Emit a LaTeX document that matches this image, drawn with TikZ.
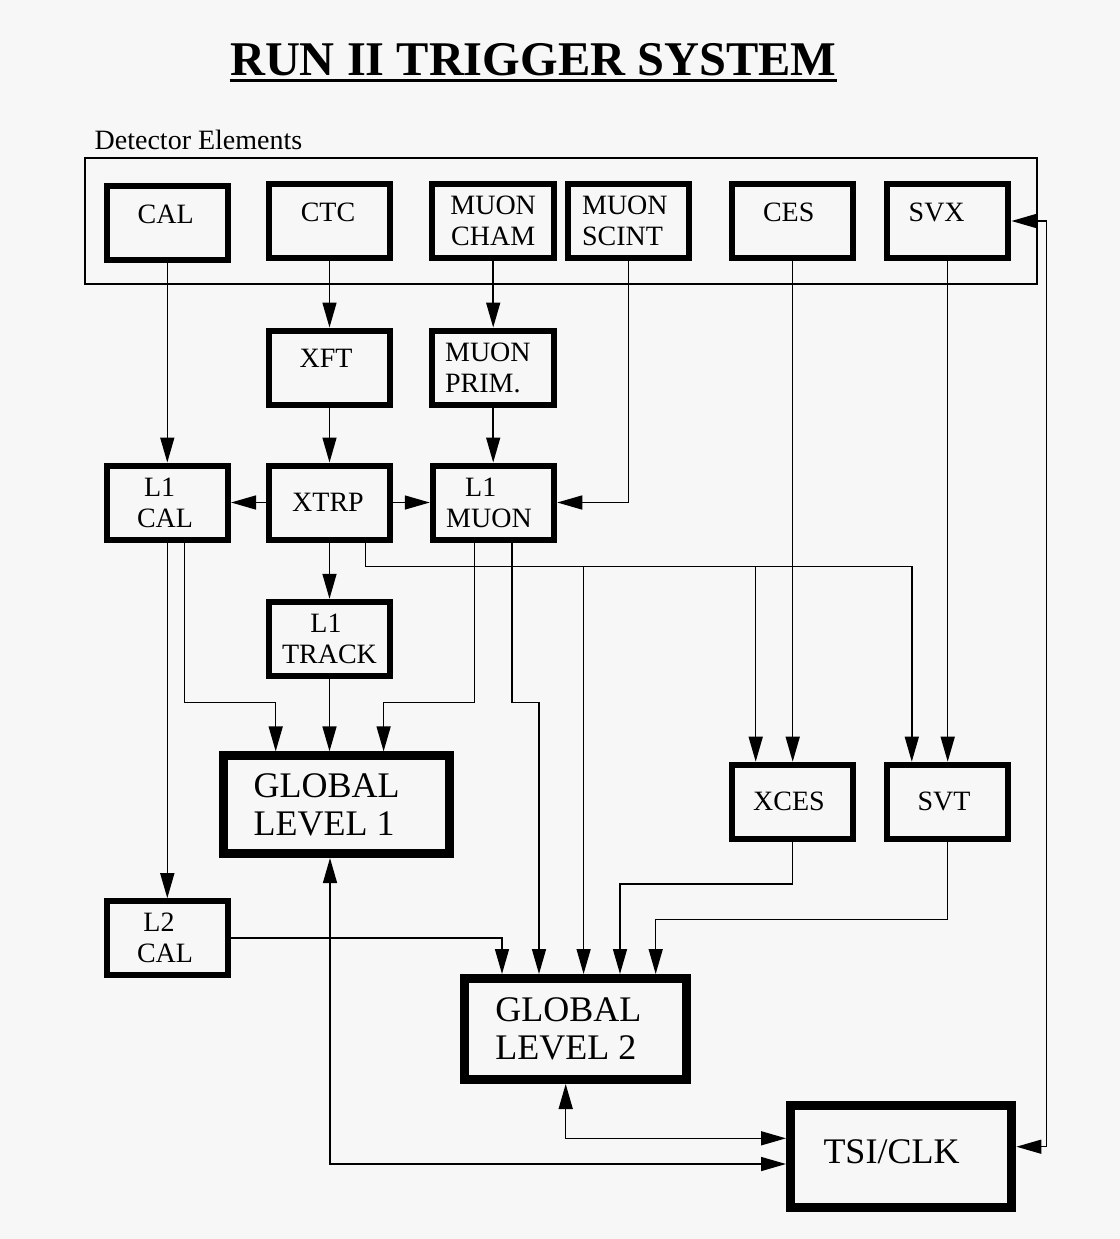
\documentclass[tikz,border=0pt]{standalone}
\usepackage{fontspec}
\setmainfont{Liberation Serif}
\usetikzlibrary{arrows.meta,calc}
\definecolor{bgc}{RGB}{247,247,247}
\newcommand\padR[1]{\hbox to #1{}}
\begin{document}
\begin{tikzpicture}[x=0.5pt,y=-0.5pt,
  box/.style={draw, line width=3pt, minimum width=60.75pt, minimum height=37pt, inner sep=0pt,
    font=\fontsize{14}{15.5}\selectfont, align=center},
  hi/.style={text height=4.6pt, text depth=4.6pt},
  big/.style={draw, line width=4.5pt, inner sep=0pt, font=\fontsize{18}{19.2}\selectfont, align=left},
  wire/.style={line width=0.75pt},
  arr/.style={wire, -{Triangle[length=12.5pt,width=7pt]}},
  darr/.style={wire, {Triangle[length=12.5pt,width=7pt]}-{Triangle[length=12.5pt,width=7pt]}}]
\useasboundingbox (0,0) rectangle (1120,1239);
\fill[bgc] (0,0) rectangle (1120,1239);

% title
\node[anchor=base, inner sep=0pt, font=\bfseries\fontsize{24.2}{28}\selectfont] (title) at (533.3,75) {RUN II TRIGGER SYSTEM};
\draw[line width=1.25pt] ($(title.base west)+(0,5.5)$) -- ($(title.base east)+(0,5.5)$);

% detector elements frame
\node[anchor=base west, inner sep=0pt, font=\fontsize{14}{16}\selectfont] (detlabel) at (94.3,149.3) {Detector Elements};
\node[draw, line width=0.8pt, minimum width=476pt, minimum height=63pt, inner sep=0pt] (det) at (561.1,221.15) {};

% boxes
\node[box,hi] (cal) at (167.3,223) {CAL\padR{1.6pt}};
\node[box,hi] (ctc) at (329.5,221) {CTC\padR{1.5pt}};
\node[box] (mcham) at (493.2,221) {MUON\\CHAM};
\node[box,align=left] (mscint) at (628.4,221) {MUON\padR{3.5pt}\\SCINT};
\node[box,hi] (ces) at (792.7,221) {CES\padR{4pt}};
\node[box,hi] (svx) at (947.7,221) {SVX\padR{11pt}};
\node[box,hi] (xft) at (329.5,367.5) {XFT\padR{3.5pt}};
\node[box,align=left] (mprim) at (493.2,367.5) {MUON\padR{5.3pt}\\PRIM.};
\node[box] (l1cal) at (167.3,502.5) {L1\padR{7.7pt}\\CAL\padR{2.3pt}};
\node[box] (xtrp) at (329.5,502.5) {XTRP\padR{1.5pt}};
\node[box] (l1muon) at (493.5,502.5) {L1\padR{12.8pt}\\MUON\padR{4.5pt}};
\node[box] (l1track) at (329.5,638.8) {L1\padR{3.5pt}\\TRACK};
\node[box] (xces) at (792.7,801.7) {XCES\padR{3.7pt}};
\node[box] (svt) at (947.7,801.7) {SVT\padR{3.7pt}};
\node[box] (l2cal) at (167.3,938.2) {L2\padR{8.3pt}\\CAL\padR{2.3pt}};
\node[big, minimum width=112.85pt, minimum height=48.85pt] (gl1) at (336.7,804.7) {GLOBAL\padR{10pt}\\LEVEL 1};
\node[big, minimum width=110.75pt, minimum height=50.5pt] (gl2) at (575.3,1029) {GLOBAL\padR{7pt}\\LEVEL 2};
\node[big, minimum width=110.7pt, minimum height=51pt, text depth=4.7pt] (tsi) at (901.2,1156.2) {TSI/CLK\padR{9.7pt}};

% straight connectors
\draw[arr] (cal.south) -- (l1cal.north);
\draw[arr] (ctc.south) -- (xft.north);
\draw[arr] (mcham.south) -- (mprim.north);
\draw[arr] (xft.south) -- (xtrp.north);
\draw[arr] (mprim.south) -- (mprim.south |- l1muon.north);
\draw[arr] (mscint.south) |- (l1muon.east);
\draw[arr] (xtrp.west) -- (l1cal.east);
\draw[arr] (xtrp.east) -- (l1muon.west);
\draw[arr] (xtrp.south) -- (l1track.north);
\draw[arr] (l1track.south) -- (l1track.south |- gl1.north);
\draw[arr] (l1cal.south) -- (l2cal.north);
\draw[arr] (ces.south) -- (xces.north);
\draw[arr] (svx.south) -- (svt.north);

% routed connectors
\coordinate (b1) at (184.3,702.3); \coordinate (b2) at (275.7,702.3);
\draw[arr] (l1cal.south -| b1) -- (b1) -- (b2) -- (b2 |- gl1.north);
\coordinate (b3) at (474.6,702.3); \coordinate (b4) at (383.6,702.3);
\draw[arr] (l1muon.south -| b3) -- (b3) -- (b4) -- (b4 |- gl1.north);
\coordinate (b5) at (512,702.3); \coordinate (b6) at (539,702.3);
\draw[arr] (l1muon.south -| b5) -- (b5) -- (b6) -- (b6 |- gl2.north);

\coordinate (b7) at (365.7,566.7); \coordinate (b8) at (911.8,566.7);
\draw[arr] (xtrp.south -| b7) -- (b7) -- (b8) -- (b8 |- svt.north);
\coordinate (t1) at (583.6,566.7);
\draw[arr] (t1) -- (t1 |- gl2.north);
\coordinate (t2) at (755.7,566.7);
\draw[arr] (t2) -- (t2 |- xces.north);

\coordinate (b9) at (620,884);
\draw[arr] (xces.south) |- (b9) -- (b9 |- gl2.north);
\coordinate (b10) at (655.7,919.3);
\draw[arr] (svt.south) |- (b10) -- (b10 |- gl2.north);
\coordinate (b11) at (502,938.3);
\draw[arr] (l2cal.east) -| (b11 |- gl2.north);

\coordinate (b12) at (330,1164);
\draw[darr] (gl1.south -| b12) -- (b12) -- (b12 -| tsi.west);
\coordinate (b13) at (565.7,1138.3);
\draw[darr] (gl2.south -| b13) -- (b13) -- (b13 -| tsi.west);
\coordinate (b14) at (1046.4,221); \coordinate (b15) at (1046.4,1146.7);
\draw[darr] (svx.east) -- (b14) -- (b15) -- (b15 -| tsi.east);
\end{tikzpicture}
\end{document}
